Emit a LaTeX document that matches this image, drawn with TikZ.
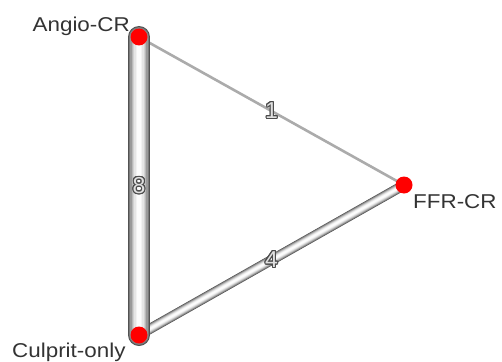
\documentclass[tikz,border=0pt]{standalone}
\usepackage{fontspec}
\setmainfont{Liberation Sans}
\usepackage{contour}
\usetikzlibrary{calc}
\contournumber{16}
\contourlength{1.1pt}
\tikzset{
  dot/.style={circle, fill=red, inner sep=0pt, minimum size=17pt},
  nodename/.style={font=\fontsize{20}{24}\selectfont, text=black!80, inner sep=0pt, xscale=1.12, transform shape},
  wlabel/.style={font=\fontsize{23}{26}\selectfont, inner sep=0pt, text=black!12},
}
\newcommand\tubeline[3]{%
  \foreach \f/\c in {1/32,0.9/48,0.78/60,0.66/72,0.54/82,0.42/90,0.3/95,0.18/99}{%
    \draw[line width=\f*#3pt, color=white!\c!black, line cap=round] (#1) -- (#2);
  }%
}
\begin{document}
\begin{tikzpicture}[x=1pt,y=-1pt]
\useasboundingbox (0,0) rectangle (502,361);
\coordinate (A) at (139,37);
\coordinate (F) at (404,185);
\coordinate (C) at (139,335);
% edges
\draw[line width=2.6pt, color=black!33, line cap=round] (A) -- (F);
\tubeline{C}{F}{10}
\tubeline{A}{C}{22}
% dots
\node[dot] (a) at (A) {};
\node[dot] (f) at (F) {};
\node[dot] (c) at (C) {};
% names
\node[nodename, anchor=base east] (la) at (130,32) {Angio-CR};
\node[nodename, anchor=base west] (lf) at (413,208) {FFR-CR};
\node[nodename, anchor=base west] (lc) at (12,357) {Culprit-only};
% edge labels
\node[wlabel] (e1) at ($(a)!0.5!(f)$) {\contour{black!70}{1}};
\node[wlabel] (e4) at ($(c)!0.5!(f)$) {\contour{black!70}{4}};
\node[wlabel] (e8) at ($(a)!0.5!(c)$) {\contour{black!70}{8}};
\end{tikzpicture}
\end{document}
